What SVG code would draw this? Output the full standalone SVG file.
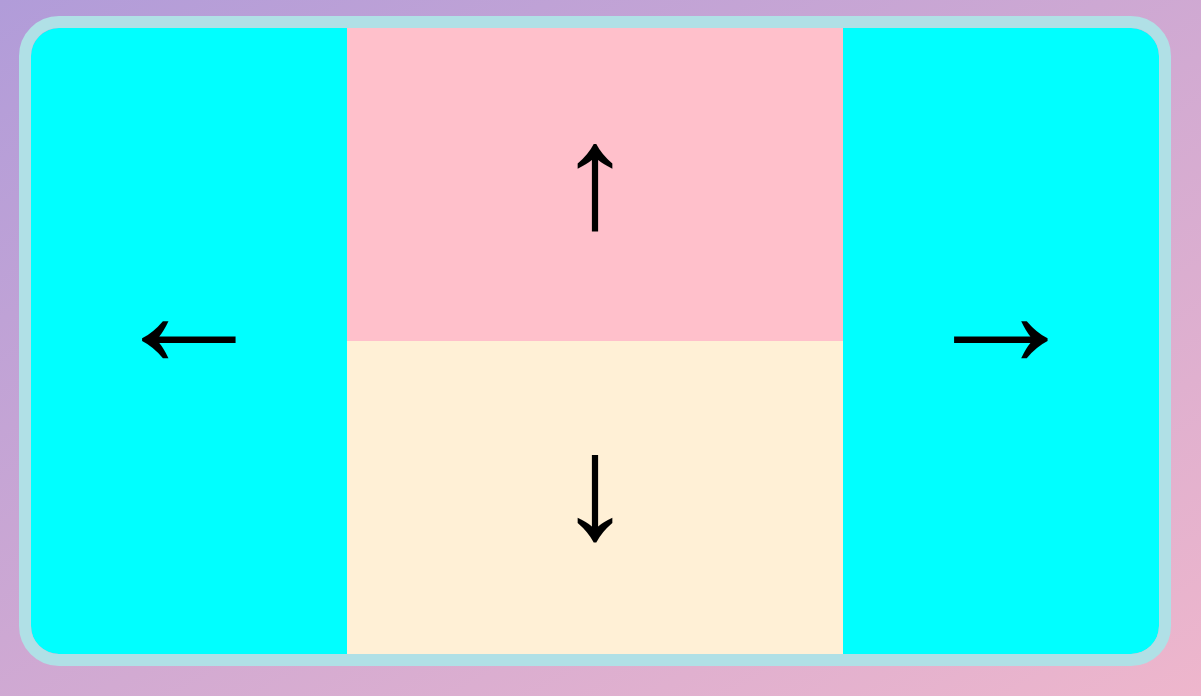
<svg xmlns="http://www.w3.org/2000/svg" width="1201" height="696" viewBox="0 0 1201 696">
  <defs>
    <linearGradient id="bg" x1="0" y1="0" x2="1" y2="1">
      <stop offset="0" stop-color="#b19cd9"/>
      <stop offset="1" stop-color="#eeb6cc"/>
    </linearGradient>
    <clipPath id="inner">
      <rect x="31" y="28" width="1128" height="626" rx="28" ry="28"/>
    </clipPath>
  </defs>
  <style>
    .arrow { font-family: "Liberation Sans", sans-serif; font-size: 158px; font-weight: bold; fill: #000; text-anchor: middle; }
    .varrow { font-size: 148px; }
  </style>
  <rect x="0" y="0" width="1201" height="696" fill="url(#bg)"/>
  <g clip-path="url(#inner)">
    <g id="left">
      <rect x="31" y="28" width="316" height="626" fill="#00ffff"/>
      <text class="arrow" x="189" y="366">←</text>
    </g>
    <g id="top">
      <rect x="347" y="28" width="496" height="313" fill="#ffc0cb"/>
      <text class="arrow varrow" x="595" y="226.5">↑</text>
    </g>
    <g id="bottom">
      <rect x="347" y="341" width="496" height="313" fill="#fff0d6"/>
      <text class="arrow varrow" x="595" y="537.5">↓</text>
    </g>
    <g id="right">
      <rect x="843" y="28" width="316" height="626" fill="#00ffff"/>
      <text class="arrow" x="1001" y="366">→</text>
    </g>
  </g>
  <rect id="frame" x="25" y="22" width="1140" height="638" rx="34" ry="34" fill="none" stroke="#b0e0e6" stroke-width="12"/>
  <g id="connectors"/>
</svg>
